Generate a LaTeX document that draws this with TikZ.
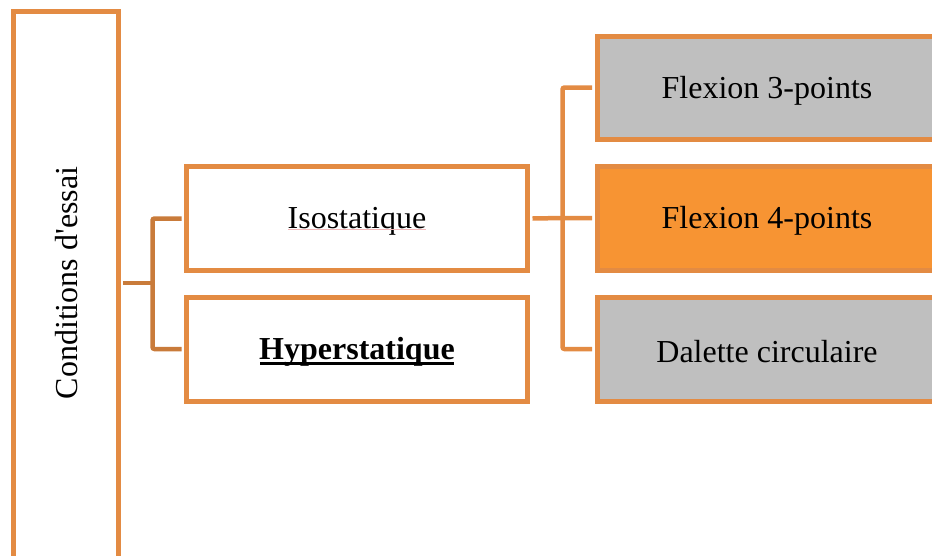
\documentclass[tikz,border=0pt]{standalone}
\usepackage{fontspec}
\setmainfont{Liberation Serif}
\newfontfamily\plainf{Liberation Serif}
\newcommand\lowtxt[1]{\raisebox{-3pt}[\height][\depth]{#1}}
\definecolor{bord}{HTML}{E38B43}
\definecolor{connA}{HTML}{C97B3A}
\definecolor{grayfill}{HTML}{BFBFBF}
\definecolor{orfill}{HTML}{F79433}
\definecolor{spell}{HTML}{F2B8B8}
\begin{document}
\begin{tikzpicture}[x=1pt,y=-1pt,
  box/.style={draw=bord,line width=5pt,fill=white,rectangle,inner sep=0pt,
    font=\fontsize{32}{38}\selectfont,text=black},
  conA/.style={draw=connA,line width=4.5pt,rounded corners=2pt},
  conB/.style={draw=bord,line width=4.5pt,rounded corners=2pt}]
\useasboundingbox (0,0) rectangle (932,555);
\clip (0,0) rectangle (932,555);
% nodes
\node[box,minimum width=105,minimum height=564] (cond) at (65.5,293) {};
\node[box,draw=none,fill=none,rotate=90] (condtext) at (66.5,283) {\plainf Conditions d'essai};
\node[box,minimum width=341,minimum height=104] (iso) at (357,218.5) {\lowtxt{Isostatique}};
\node[box,minimum width=341,minimum height=104] (hyp) at (357,349) {\lowtxt{\textbf{Hyperstatique}}};
\node[box,fill=grayfill,minimum width=340,minimum height=103] (f3) at (767,87.5) {\lowtxt{Flexion 3-points}};
\node[box,fill=orfill,minimum width=340,minimum height=104] (f4) at (767,218) {\lowtxt{Flexion 4-points}};
\node[box,fill=grayfill,minimum width=340,minimum height=104] (dal) at (767,349) {\lowtxt{Dalette circulaire}};
% junctions
\coordinate (j1) at (152.5,283);
\coordinate (j2) at (562.5,218);
% connectors level 1
\draw[conA] ([xshift=2.5pt]cond.east |- j1) -- (j1);
\draw[conA] ([xshift=-2.5pt]iso.west) -- (j1 |- iso.west) -- (j1 |- hyp.west) -- ([xshift=-2.5pt]hyp.west);
% connectors level 2
\draw[conB] ([xshift=2.5pt]iso.east) -- (j2) -- ([xshift=-2.5pt]f4.west);
\draw[conB] ([xshift=-2.5pt]f3.west) -- (j2 |- f3.west) -- (j2 |- dal.west) -- ([xshift=-2.5pt]dal.west);
% text decorations
\draw[spell,line width=0.8pt] ([xshift=-69pt,yshift=-11pt]iso.center) -- ([xshift=69pt,yshift=-11pt]iso.center);
\draw[black,line width=2.6pt] ([xshift=-97pt,yshift=-14.5pt]hyp.center) -- ([xshift=97pt,yshift=-14.5pt]hyp.center);
\end{tikzpicture}
\end{document}
